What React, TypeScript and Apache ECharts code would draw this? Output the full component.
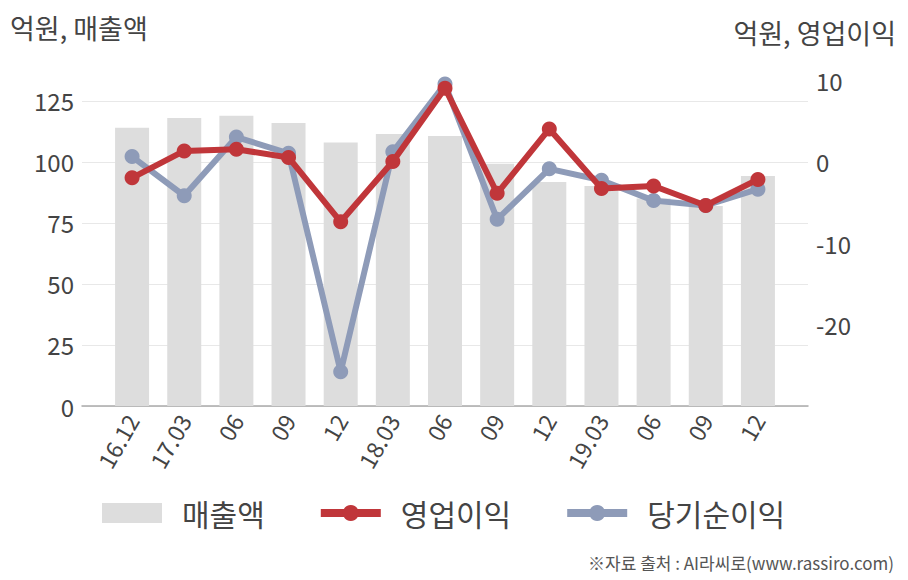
import React, { useEffect, useRef } from "react";
import * as echarts from "echarts";

const categories = ["16.12", "17.03", "06", "09", "12", "18.03", "06", "09", "12", "19.03", "06", "09", "12"];
const sales = [114, 118, 119, 116, 108, 111.5, 110.7, 99.3, 91.8, 90.2, 85, 82, 94.3];
const opProfit = [-2.0, 1.3, 1.5, 0.5, -7.4, 0, 9.0, -3.9, 4.0, -3.3, -3.0, -5.4, -2.2];
const netProfit = [0.6, -4.2, 3.0, 1.0, -25.8, 1.2, 9.5, -7.1, -0.9, -2.3, -4.8, -5.4, -3.4];
const leftTicks = { min: 0, max: 133.6, interval: 25 };
const rightTicks = { min: -30, max: 10, interval: 10 };

const FONT = "'Noto Sans CJK KR', 'Noto Sans', sans-serif";
const TXT = "#444";
const RED = "#c0363a";
const BLUE = "#8e9bb8";
const BAR = "#dddddd";

export default function App() {
  const ref = useRef<HTMLDivElement>(null);
  useEffect(() => {
    const chart = echarts.init(ref.current!, null, { renderer: "svg" });
    const gridPos = { top: 80, bottom: 174 };
    chart.setOption({
      animation: false,
      textStyle: { fontFamily: FONT },
      grid: [
        { left: 82, right: 100, ...gridPos },
        { left: 106, right: 124, ...gridPos },
      ],
      xAxis: [
        {
          gridIndex: 0, type: "value", min: 0, max: 1,
          axisLine: { show: true, lineStyle: { color: "#aaaaaa", width: 1.5 } },
          axisTick: { show: false }, axisLabel: { show: false }, splitLine: { show: false },
        },
        {
          gridIndex: 1, type: "category", data: categories,
          axisLine: { show: false }, axisTick: { show: false },
          axisLabel: { rotate: 60, fontSize: 23, color: TXT, margin: 10, fontFamily: FONT, interval: 0 },
        },
      ],
      yAxis: [
        {
          gridIndex: 0, type: "value", ...leftTicks, position: "left",
          axisLine: { show: false }, axisTick: { show: false },
          axisLabel: { fontSize: 24, color: TXT, margin: 8, showMaxLabel: false, fontFamily: FONT },
          splitLine: { lineStyle: { color: ["#e8e8e8", "#e8e8e8", "#e8e8e8", "#e8e8e8", "#e8e8e8", "#e8e8e8", "rgba(0,0,0,0)"] } },
        },
        {
          gridIndex: 0, type: "value", ...rightTicks, position: "right",
          axisLine: { show: false }, axisTick: { show: false },
          axisLabel: { fontSize: 24, color: TXT, margin: 8, showMinLabel: false, fontFamily: FONT },
          splitLine: { show: false },
        },
        { gridIndex: 1, type: "value", ...leftTicks, show: false, splitLine: { show: false } },
        { gridIndex: 1, type: "value", ...rightTicks, show: false, splitLine: { show: false } },
      ],
      legend: {
        left: 97, top: 493, itemGap: 52, itemWidth: 60, itemHeight: 20,
        textStyle: { fontSize: 30, color: TXT, fontFamily: FONT, padding: [0, 0, 0, 15] },
        data: [
          { name: "매출액", icon: "rect", itemStyle: { color: BAR } },
          { name: "영업이익", lineStyle: { width: 8, color: RED }, itemStyle: { color: RED } },
          { name: "당기순이익", lineStyle: { width: 8, color: BLUE }, itemStyle: { color: BLUE } },
        ],
      },
      graphic: [
        { type: "text", left: 10, top: 14, style: { text: "억원, 매출액", fontSize: 27, fill: TXT, fontFamily: FONT } },
        { type: "text", right: 12, top: 19, style: { text: "억원, 영업이익", fontSize: 27, fill: TXT, fontFamily: FONT } },
        { type: "text", right: 14, top: 554, style: { text: "※자료 출처 : AI라씨로(www.rassiro.com)", fontSize: 17, fill: "#555", fontFamily: FONT } },
      ],
      series: [
        {
          name: "매출액", type: "bar", xAxisIndex: 1, yAxisIndex: 2, data: sales,
          barWidth: 34, itemStyle: { color: BAR }, z: 1,
        },
        {
          name: "당기순이익", type: "line", xAxisIndex: 1, yAxisIndex: 3, data: netProfit,
          symbol: "circle", symbolSize: 15, lineStyle: { width: 6, color: BLUE }, itemStyle: { color: BLUE }, z: 3,
        },
        {
          name: "영업이익", type: "line", xAxisIndex: 1, yAxisIndex: 3, data: opProfit,
          symbol: "circle", symbolSize: 15, lineStyle: { width: 6, color: RED }, itemStyle: { color: RED }, z: 4,
        },
      ],
    });
    return () => chart.dispose();
  }, []);
  return <div ref={ref} style={{ width: 908, height: 580, position: "absolute", left: 0, top: 0 }} />;
}
